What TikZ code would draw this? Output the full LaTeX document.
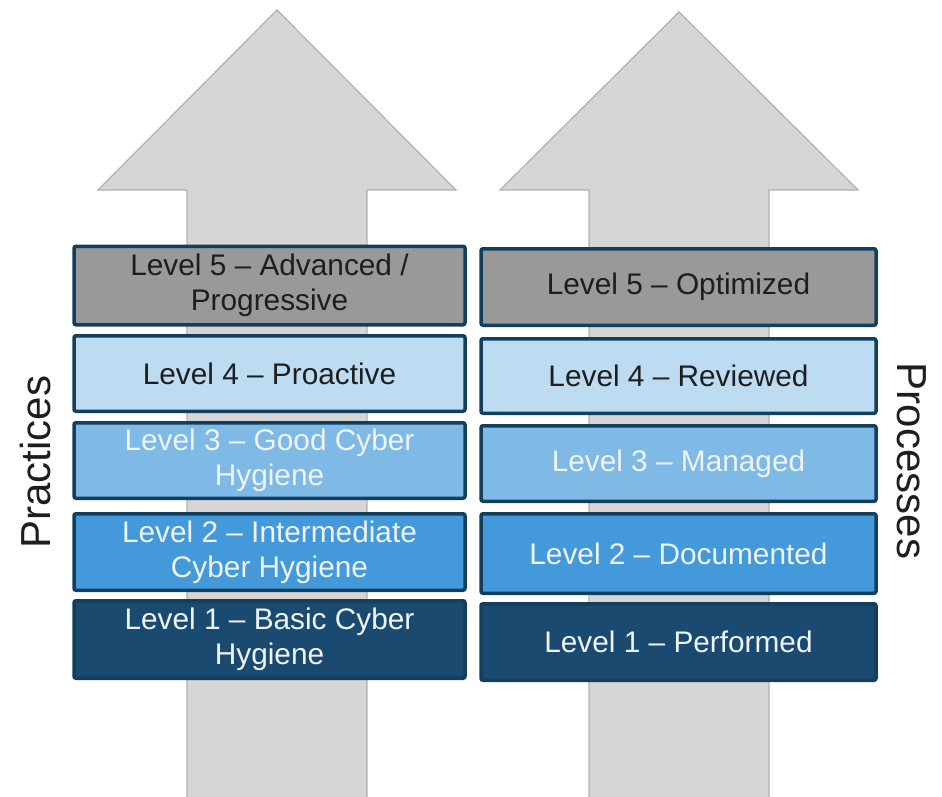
\documentclass[tikz,border=0pt]{standalone}
\usepackage{fontspec}
\setmainfont{Liberation Sans}
\definecolor{boxline}{HTML}{123F5E}
\definecolor{cfive}{HTML}{999999}
\definecolor{cfour}{HTML}{BDDCF2}
\definecolor{cthree}{HTML}{7FB9E6}
\definecolor{ctwo}{HTML}{4499DB}
\definecolor{cone}{HTML}{1B4A70}
\definecolor{arrowfill}{HTML}{D6D6D6}
\definecolor{arrowline}{HTML}{B0B0B0}
\definecolor{darktext}{HTML}{1E1E1E}
\definecolor{lighttext}{HTML}{EEF4FA}
\begin{document}
\begin{tikzpicture}[x=1pt,y=-1pt,
  bigarrow/.style={fill=arrowfill,draw=arrowline,line width=1.2pt,line join=miter},
  lvl/.style={draw=boxline,line width=3.5pt,rounded corners=2pt,inner sep=0pt,align=center,
    font=\fontsize{29.8}{35}\selectfont},
  lleft/.style={lvl,minimum width=391pt},
  lright/.style={lvl,minimum width=395pt},
  dk/.style={text=darktext},
  lt/.style={text=lighttext},
  side/.style={font=\fontsize{42}{48}\selectfont,text=darktext}]
\useasboundingbox (0,0) rectangle (942,797);
\clip (0,0) rectangle (942,797);
% arrows
\draw[bigarrow] (277,10) -- (456,190) -- (367,190) -- (367,810) -- (187,810) -- (187,190) -- (98,190) -- cycle;
\draw[bigarrow] (679,12) -- (858,190) -- (769,190) -- (769,810) -- (589,810) -- (589,190) -- (500,190) -- cycle;
% left boxes
\node[lleft,dk,fill=cfive,minimum height=78.5pt] (l5) at (269.5,285.5) {Level 5 – Advanced /\\Progressive};
\node[lleft,dk,fill=cfour,minimum height=75.5pt] (l4) at (269.5,373.5) {Level 4 – Proactive};
\node[lleft,lt,fill=cthree,minimum height=75.5pt] (l3) at (269.5,460.5) {Level 3 – Good Cyber\\Hygiene};
\node[lleft,lt,fill=ctwo,minimum height=76.5pt] (l2) at (269.5,552) {Level 2 – Intermediate\\Cyber Hygiene};
\node[lleft,lt,fill=cone,minimum height=77.5pt] (l1) at (269.5,639.5) {Level 1 – Basic Cyber\\Hygiene};
% right boxes
\node[lright,dk,fill=cfive,minimum height=76.5pt] (r5) at (678.5,287) {Level 5 – Optimized};
\node[lright,dk,fill=cfour,minimum height=74.5pt] (r4) at (678.5,376) {Level 4 – Reviewed};
\node[lright,lt,fill=cthree,minimum height=75.5pt] (r3) at (678.5,463.5) {Level 3 – Managed};
\node[lright,lt,fill=ctwo,minimum height=79.5pt] (r2) at (678.5,553.5) {Level 2 – Documented};
\node[lright,lt,fill=cone,minimum height=76.5pt] (r1) at (678.5,642) {Level 1 – Performed};
% side labels
\node[side,rotate=90] (prac) at (35,462) {Practices};
\node[side,rotate=-90] (proc) at (912,461) {Processes};
\end{tikzpicture}
\end{document}
